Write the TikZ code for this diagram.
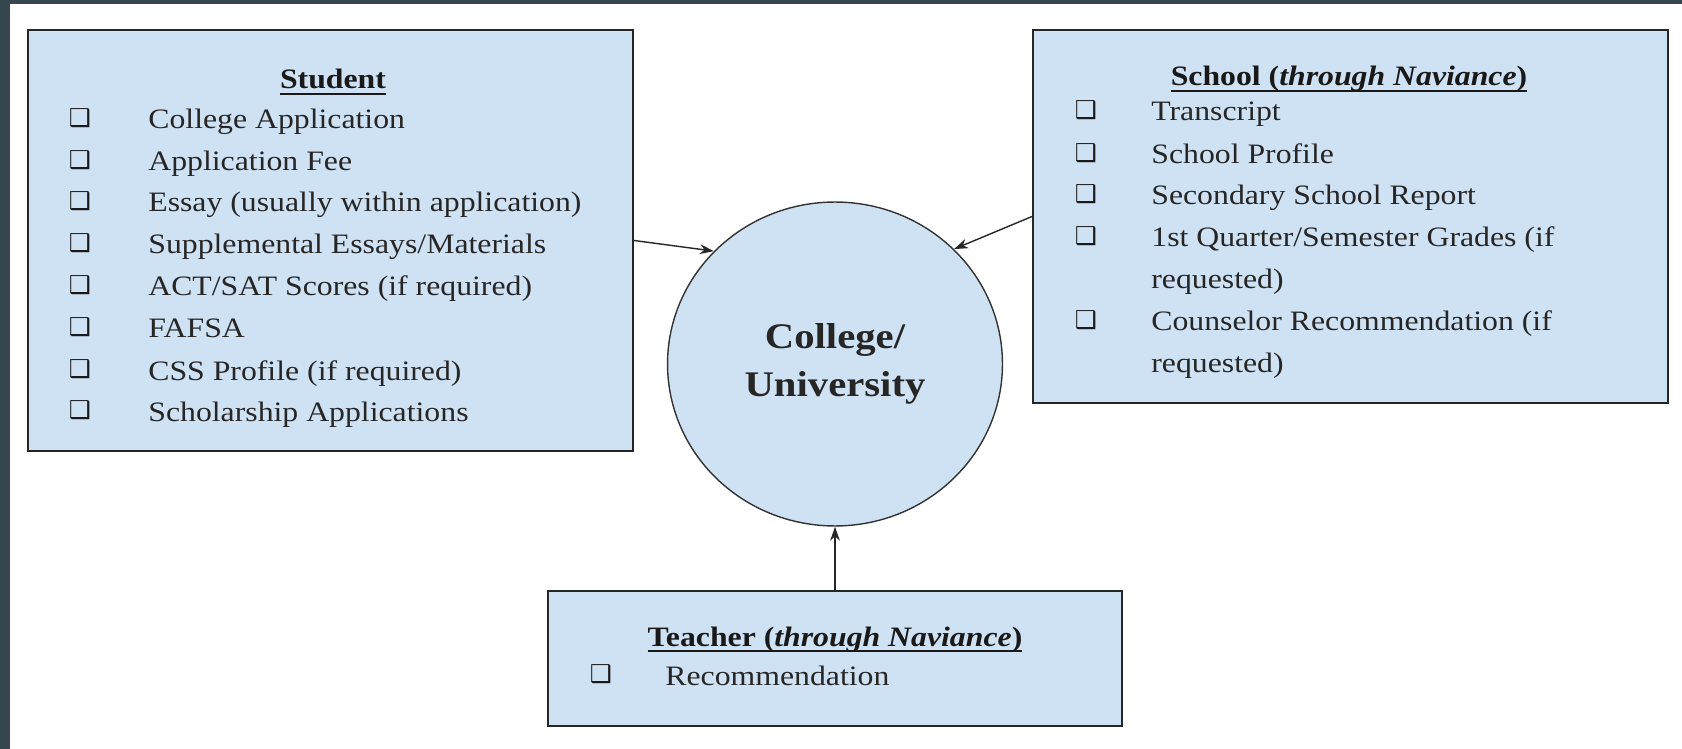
\documentclass[tikz,border=0pt]{standalone}
\usepackage{fontspec}
\setmainfont[FakeStretch=1.13]{Liberation Serif}
\newfontfamily\tickfont{DejaVu Sans}
\usepackage{tikz}
\usetikzlibrary{arrows.meta,shapes,positioning,calc}
\definecolor{panelblue}{HTML}{CFE2F3}
\definecolor{edgeslate}{HTML}{36464F}
\definecolor{ink}{HTML}{262626}
\newcommand\ulbar[1]{\leavevmode\setbox0=\hbox{#1}\rlap{\rule[-3.2pt]{\wd0}{0.9pt}}\box0}
\tikzstyle{panel}=[rectangle, draw=black!85, fill=panelblue, line width=1.2pt, inner sep=0pt]
\tikzstyle{uni}=[ellipse, draw=black!80, fill=panelblue, line width=0.8pt, minimum width=6.7cm, minimum height=6.48cm, inner sep=0pt, align=center, text=ink, font=\fontsize{20.5}{27.5}\selectfont\bfseries]
\tikzstyle{head}=[anchor=base, inner sep=0pt, text=black!90, font=\fontsize{16}{19}\selectfont\bfseries]
\tikzstyle{item}=[anchor=base west, inner sep=0pt, text=ink, font=\fontsize{16}{19}\selectfont]
\tikzstyle{tick}=[anchor=base, inner sep=0pt, yshift=1.5pt, text=black!90, font=\tickfont\fontsize{14}{16}\selectfont]
\tikzstyle{link}=[-{Stealth[length=8pt,width=5.5pt]}, line width=0.8pt, draw=black!85]

\begin{document}
\begin{tikzpicture}[x=0.02cm,y=-0.02cm]
		\useasboundingbox(0,0)rectangle(1682,749);
		\fill[edgeslate](0,0)rectangle(1682,4);
		\fill[edgeslate](0,0)rectangle(10,749);
		% the three senders and the college
		\node(stu)at(330.5,240.5)[panel,minimum width=12.1cm,minimum height=8.42cm]{};
		\node(sch)at(1350.5,216.5)[panel,minimum width=12.7cm,minimum height=7.46cm]{};
		\node(tea)at(835,658.5)[panel,minimum width=11.48cm,minimum height=2.7cm]{};
		\node(uni)at(835,364)[uni]{College/\\University};
		% student list
		\node(stuhead)at(333,89)[head]{\ulbar{Student}};
		\node(t1)at(80,129)[tick]{❑};
		\node(s1)at(148,129)[item]{College Application};
		\node(t2)at(80,171)[tick]{❑};
		\node(s2)at(148,171)[item]{Application Fee};
		\node(t3)at(80,212)[tick]{❑};
		\node(s3)at(148,212)[item]{Essay (usually within application)};
		\node(t4)at(80,254)[tick]{❑};
		\node(s4)at(148,254)[item]{Supplemental Essays/Materials};
		\node(t5)at(80,296)[tick]{❑};
		\node(s5)at(148,296)[item]{ACT/SAT Scores (if required)};
		\node(t6)at(80,338)[tick]{❑};
		\node(s6)at(148,338)[item]{FAFSA};
		\node(t7)at(80,380)[tick]{❑};
		\node(s7)at(148,380)[item]{CSS Profile (if required)};
		\node(t8)at(80,421)[tick]{❑};
		\node(s8)at(148,421)[item]{Scholarship Applications};
		% school list
		\node(schhead)at(1349,86)[head]{\ulbar{School (\textit{through Naviance})}};
		\node(u1)at(1086,121)[tick]{❑};
		\node(r1)at(1151,121)[item]{Transcript};
		\node(u2)at(1086,164)[tick]{❑};
		\node(r2)at(1151,164)[item]{School Profile};
		\node(u3)at(1086,205)[tick]{❑};
		\node(r3)at(1151,205)[item]{Secondary School Report};
		\node(u4)at(1086,247)[tick]{❑};
		\node(r4)at(1151,247)[item]{1st Quarter/Semester Grades (if};
		\node(r4b)at(1151,289)[item]{requested)};
		\node(u5)at(1086,331)[tick]{❑};
		\node(r5)at(1151,331)[item]{Counselor Recommendation (if};
		\node(r5b)at(1151,373)[item]{requested)};
		% teacher list
		\node(teahead)at(835,646)[head]{\ulbar{Teacher (\textit{through Naviance})}};
		\node(v1)at(601,685)[tick]{❑};
		\node(q1)at(665,685)[item]{Recommendation};
		% arrows into the college
		\draw[link](stu.east)--(uni.137);
		\draw[link](sch.west)--(uni.44);
		\draw[link](tea.north)--(uni.south);
\end{tikzpicture}
\end{document}
